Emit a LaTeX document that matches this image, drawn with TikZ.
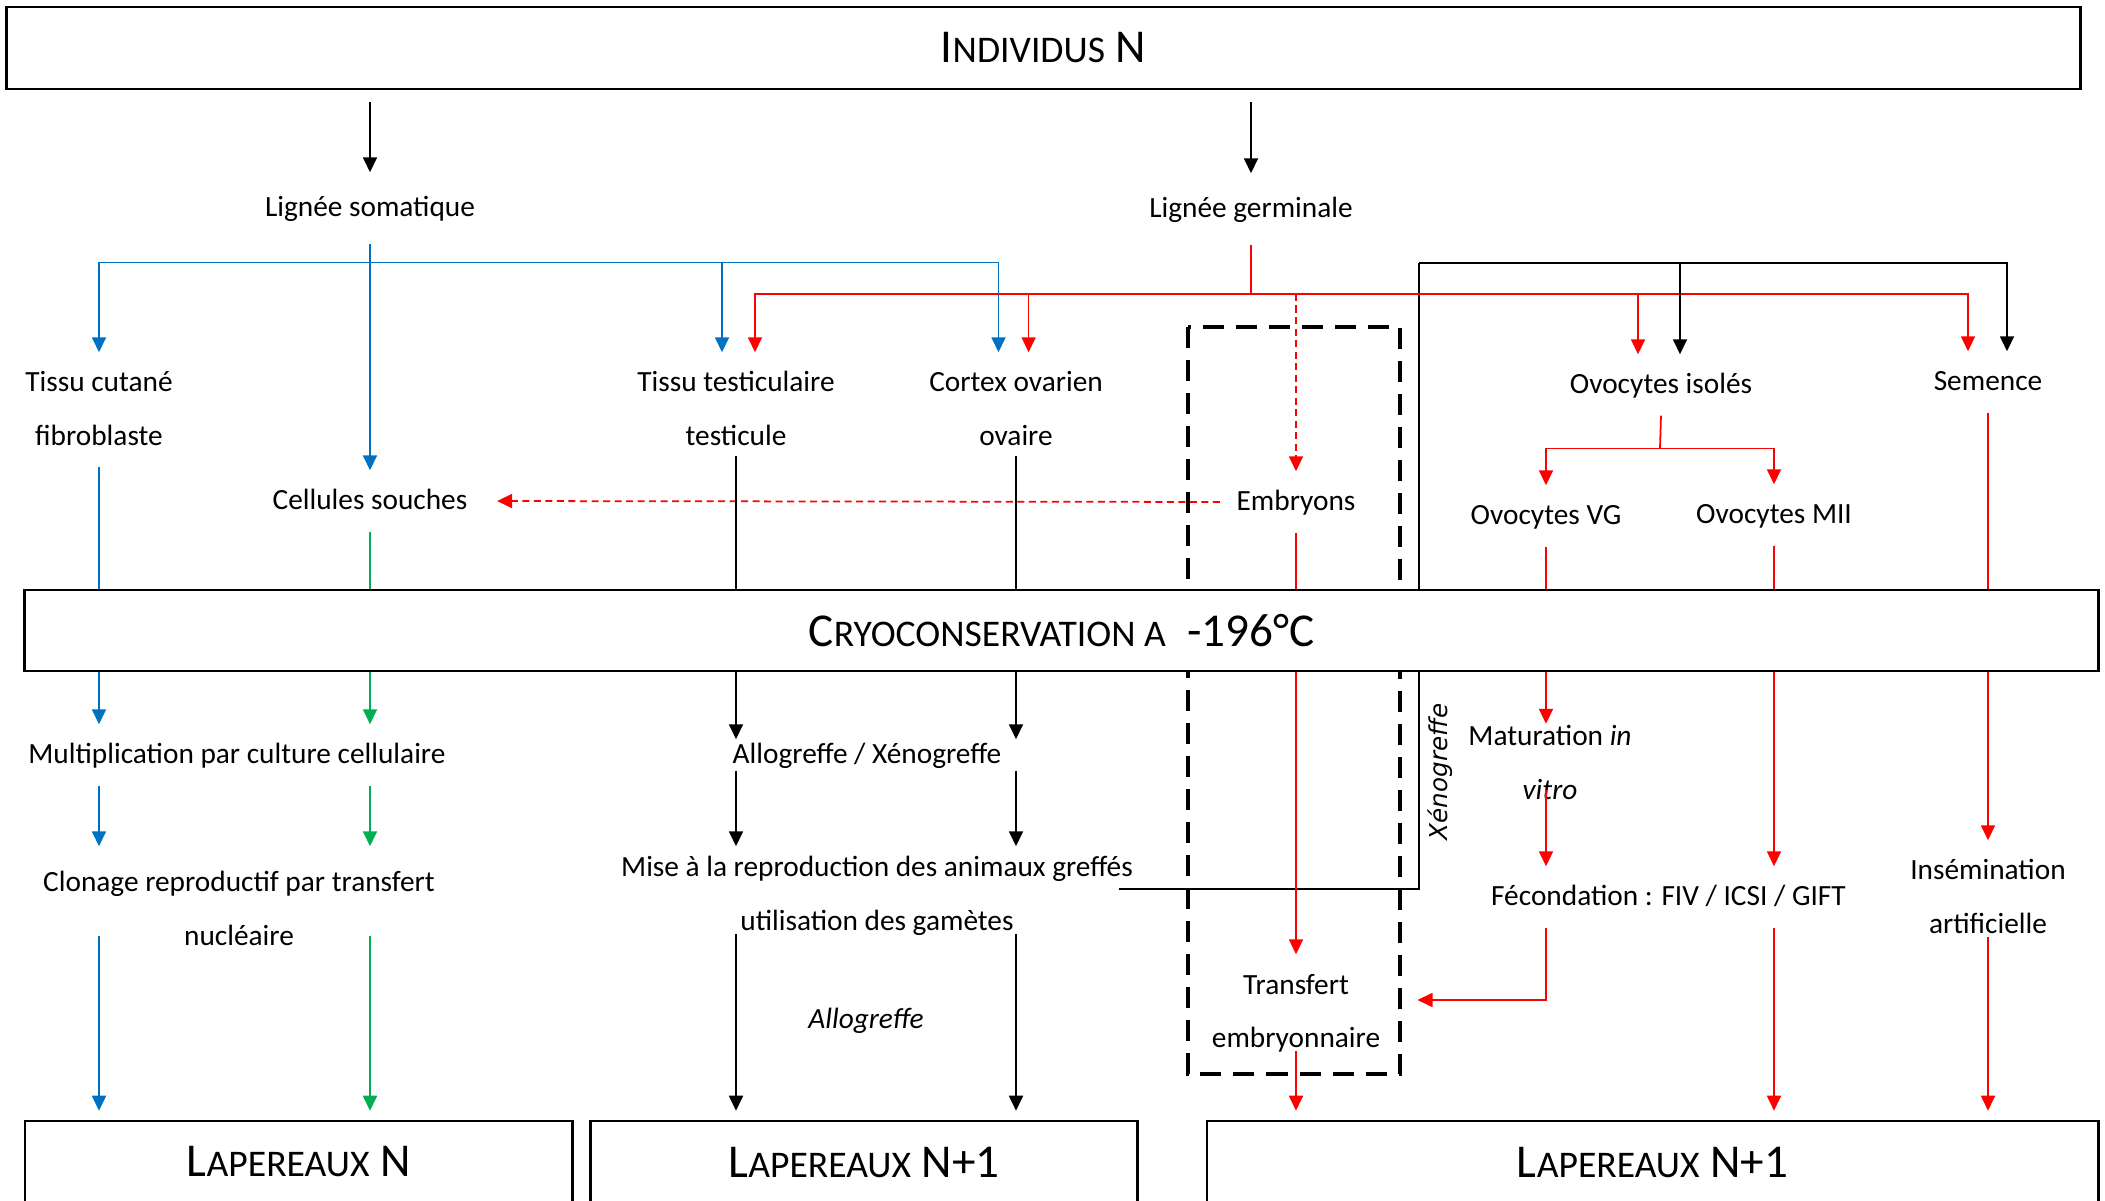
\documentclass[tikz,border=0pt]{standalone}
\usepackage{fontspec}
\setmainfont{Carlito}
\newfontfamily\xenofont{DejaVu Sans}
\usetikzlibrary{arrows.meta,calc,positioning,backgrounds}
\definecolor{wblue}{RGB}{0,112,192}
\definecolor{wgreen}{RGB}{0,176,80}
\definecolor{wred}{RGB}{255,0,0}
\newcommand{\capsmall}[1]{{\fontsize{10.7pt}{13pt}\selectfont #1}}
\tikzstyle{bigbox} = [rectangle, draw, line width=0.7pt, fill=white, inner sep=0pt,
    minimum height=0.82cm, font=\fontsize{13.4pt}{16pt}\selectfont]
\tikzstyle{txt} = [inner sep=0pt, minimum height=0.6cm, text height=0.215cm, text depth=0.035cm,
    font=\fontsize{8.34pt}{10pt}\selectfont]
\tikzstyle{tight} = [minimum height=0pt]
\tikzstyle{line} = [draw, line width=0.5pt, -{Triangle[length=0.15cm,width=0.14cm]}]
\tikzstyle{bare} = [draw, line width=0.5pt]
\tikzstyle{rdash} = [dash pattern=on 0.07cm off 0.045cm]

\begin{document}
\begin{tikzpicture}[x=0.01cm,y=-0.01cm]
    \useasboundingbox (0,0) rectangle (2105,1201);
    % Place nodes
    \node[bigbox, minimum width=20.73cm] (indiv) at (1043.5,48) {I\capsmall{NDIVIDUS} N};
    \node[bigbox, minimum width=20.73cm, minimum height=0.81cm] (cryo) at (1061.5,630.5) {C\capsmall{RYOCONSERVATION A}\ \ -196°C};
    \node[bigbox, minimum width=5.475cm] (lapN) at (298.75,1162) {L\capsmall{APEREAUX} N};
    \node[bigbox, minimum width=5.47cm] (lapNa) at (864,1162) {L\capsmall{APEREAUX} N+1};
    \node[bigbox, minimum width=8.91cm] (lapNb) at (1652.5,1162) {L\capsmall{APEREAUX} N+1};

    \node[txt, minimum height=0.7cm] (soma) at (370,208) {Lignée somatique};
    \node[txt, minimum height=0.7cm] (germ) at (1251,209) {Lignée germinale};
    \node[txt] (cutane) at (99,383) {Tissu cutané};
    \node[txt, below of=cutane, node distance=0.53cm] (fibro) {fibroblaste};
    \node[txt] (souches) at (370,501) {Cellules souches};
    \node[txt] (testic) at (736,383) {Tissu testiculaire};
    \node[txt, below of=testic, node distance=0.53cm, minimum height=0.38cm] (testi) {testicule};
    \node[txt] (cortex) at (1016,383) {Cortex ovarien};
    \node[txt, below of=cortex, node distance=0.53cm, minimum height=0.38cm] (ovaire) {ovaire};
    \node[txt] (embryons) at (1296,502) {Embryons};
    \node[txt] (isoles) at (1661,385) {Ovocytes isolés};
    \node[txt] (semence) at (1988,382) {Semence};
    \node[txt] (ovg) at (1546,516) {Ovocytes VG};
    \node[txt] (omii) at (1774,515) {Ovocytes MII};

    \node[txt] (multi) at (237,755) {Multiplication par culture cellulaire};
    \node[txt, minimum height=0.72cm] (clonage) at (239,883) {Clonage reproductif par transfert};
    \node[txt, tight, below of=clonage, node distance=0.53cm] (nucl) {nucléaire};
    \node[txt, minimum height=0.3cm] (allo) at (867,755) {Allogreffe / Xénogreffe};
    \node[txt, minimum height=0.42cm] (mise) at (877,868) {Mise à la reproduction des animaux greffés};
    \node[txt, tight, below of=mise, node distance=0.53cm] (util) {utilisation des gamètes};
    \node[txt, font=\fontsize{8.34pt}{10pt}\selectfont\itshape] (allog) at (866,1020) {Allogreffe};
    \node[txt, tight] (matur) at (1550,737) {Maturation \textit{in}};
    \node[txt, tight, below of=matur, node distance=0.53cm] (vitro) {\textit{vitro}};
    \node[txt] (fecond) at (1668.5,897) {Fécondation : FIV / ICSI / GIFT};
    \node[txt] (insem) at (1988,871) {Insémination};
    \node[txt, tight, below of=insem, node distance=0.53cm] (artif) {artificielle};
    \node[txt] (transf) at (1296,985) {Transfert};
    \node[txt, tight, below of=transf, node distance=0.53cm] (embtr) {embryonnaire};
    \node[rotate=90, inner sep=0pt, font={\xenofont\itshape\fontsize{7pt}{8pt}\selectfont}] (xeno) at (1440,772) {Xénogreffe};

    \coordinate (bbus) at (370,262.5);
    \coordinate (rbus) at (1251,294);
    \coordinate (kbus) at (1419,263);
    \coordinate (obus) at (1660,448.5);

    % Background: dashed frame and graft loop
    \begin{scope}[on background layer]
        \draw[line width=1.3pt, dash pattern=on 0.21cm off 0.12cm] (1188,327) rectangle (1400,1074);
        \draw[line width=0.55pt] ($(mise.east)+(-15,21)$) -| (kbus);
    \end{scope}

    % Draw edges
    \path [line, shorten <=0.12cm] (indiv.south -| soma) -- (soma.north);
    \path [line, shorten <=0.12cm] (indiv.south -| germ) -- (germ.north);

    % somatic line
    \path [line, wblue] (soma.south) -- (souches.north);
    \path [line, wblue] (bbus) -| (cutane.north);
    \path [line, wblue] (bbus) -| ($(testic.north)+(-14,0)$);
    \path [line, wblue] (bbus) -| ($(cortex.north)+(-17.5,0)$);
    \path [bare, wblue] (fibro.south) -- (cryo.north -| fibro);
    \path [line, wblue] (cryo.south -| fibro) -- (multi.north -| fibro);
    \path [line, wblue] (multi.south -| fibro) -- (clonage.north -| fibro);
    \path [line, wblue, shorten >=0.09cm] (nucl -| fibro) -- (lapN.north -| fibro);
    \path [bare, wgreen] (souches.south) -- (cryo.north -| souches);
    \path [line, wgreen] (cryo.south -| souches) -- (multi.north -| souches);
    \path [line, wgreen] (multi.south -| souches) -- (clonage.north -| souches);
    \path [line, wgreen, shorten >=0.09cm] (nucl -| souches) -- (lapN.north -| souches);

    % germinal line
    \path [bare, wred] (germ.south) -- (rbus);
    \path [line, wred] (rbus) -| ($(testic.north)+(19,0)$);
    \path [line, wred] (rbus) -| ($(cortex.north)+(12.6,0)$);
    \path [line, wred] (rbus) -| ($(isoles.north)+(-23,0)$);
    \path [line, wred] (rbus) -| ($(semence.north)+(-20,0)$);
    \path [line, wred, rdash] (rbus -| embryons) -- (embryons.north);
    \path [line, wred, rdash, shorten <=0.16cm, shorten >=0.29cm] (embryons.west) -- (souches.east);
    \path [line] (kbus) -| ($(isoles.north)+(19,0)$);
    \path [line] (kbus) -| ($(semence.north)+(19,0)$);

    % grafts
    \path [bare] (testi.south) -- (cryo.north -| testi);
    \path [line] (cryo.south -| testi) -- (allo.north -| testi);
    \path [line] (allo.south -| testi) -- (mise.north -| testi);
    \path [line, shorten >=0.09cm] (util.south -| testi) -- (lapNa.north -| testi);
    \path [bare] (ovaire.south) -- (cryo.north -| ovaire);
    \path [line] (cryo.south -| ovaire) -- (allo.north -| ovaire);
    \path [line] (allo.south -| ovaire) -- (mise.north -| ovaire);
    \path [line, shorten >=0.09cm] (util.south -| ovaire) -- (lapNa.north -| ovaire);

    % embryos and oocytes
    \path [bare, wred] (embryons.south) -- (cryo.north -| embryons);
    \path [line, wred] (cryo.south -| embryons) -- (transf.north);
    \path [line, wred, shorten >=0.09cm] (embtr.south) -- (lapNb.north -| embtr);
    \path [bare, wred] (isoles.south) -- (obus);
    \path [line, wred] (obus) -| (ovg.north);
    \path [line, wred] (obus) -| (omii.north);
    \path [bare, wred] (ovg.south) -- (cryo.north -| ovg);
    \path [line, wred] (cryo.south -| ovg) -- (matur.north -| ovg);
    \path [line, wred] (vitro -| ovg) -- (fecond.north -| ovg);
    \path [line, wred] (fecond.south -| ovg) |- ($(transf.east)+(68,15)$);
    \path [bare, wred] (omii.south) -- (cryo.north -| omii);
    \path [line, wred] (cryo.south -| omii) -- (fecond.north -| omii);
    \path [line, wred, shorten >=0.09cm] (fecond.south -| omii) -- (lapNb.north -| omii);
    \path [bare, wred] (semence.south) -- (cryo.north -| semence);
    \path [line, wred] (cryo.south -| semence) -- (insem.north);
    \path [line, wred, shorten >=0.09cm] (artif.south) -- (lapNb.north -| artif);
\end{tikzpicture}
\end{document}
